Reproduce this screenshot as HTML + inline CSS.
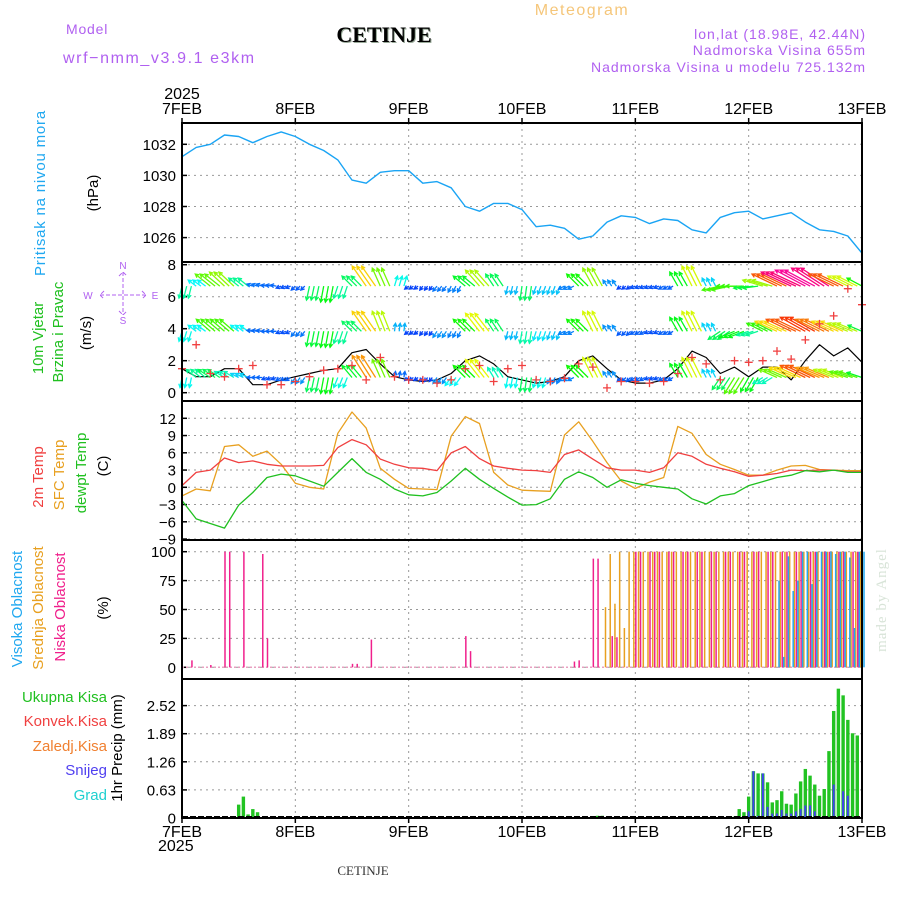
<!DOCTYPE html>
<html><head><meta charset="utf-8"><style>
body{margin:0;background:#fff;}
svg{display:block;font-family:"Liberation Sans",sans-serif;}
</style></head><body>
<svg id="chart" width="900" height="900" viewBox="0 0 900 900" xmlns="http://www.w3.org/2000/svg">
<rect x="0" y="0" width="900" height="900" fill="#fff"/>
<text x="582" y="15" font-size="16" fill="#f5c67a" text-anchor="middle" letter-spacing="1.5">Meteogram</text>
<text x="66" y="34" font-size="14" fill="#b060f0" letter-spacing="0.8">Model</text>
<text x="63" y="63" font-size="16" fill="#b060f0" letter-spacing="1.6">wrf−nmm_v3.9.1  e3km</text>
<text x="385" y="43" font-size="22" font-weight="bold" font-family="Liberation Serif,serif" fill="#9a9" text-anchor="middle">CETINJE</text>
<text x="384" y="42" font-size="22" font-weight="bold" font-family="Liberation Serif,serif" fill="#000" text-anchor="middle">CETINJE</text>
<text x="866" y="39" font-size="14" fill="#b060f0" text-anchor="end" letter-spacing="1">lon,lat (18.98E, 42.44N)</text>
<text x="866" y="55" font-size="14" fill="#b060f0" text-anchor="end" letter-spacing="1">Nadmorska Visina 655m</text>
<text x="866" y="72" font-size="14" fill="#b060f0" text-anchor="end" letter-spacing="1">Nadmorska Visina u modelu 725.132m</text>
<text x="182" y="99" font-size="16" fill="#000" text-anchor="middle">2025</text>
<text x="182" y="836" font-size="16" fill="#000" text-anchor="start" dx="-24" dy="15">2025</text>
<text x="363" y="875" font-size="13" font-family="Liberation Serif,serif" fill="#333" text-anchor="middle">CETINJE</text>
<text transform="translate(886,600) rotate(-90)" font-size="15" font-family="Liberation Serif,serif" fill="#d8e4d8" text-anchor="middle" letter-spacing="1">made by Angel</text>

<text transform="translate(45,193) rotate(-90)" font-size="15" fill="#20a8f0" text-anchor="middle" letter-spacing="0.8">Pritisak na nivou mora</text>
<text transform="translate(98,193) rotate(-90)" font-size="15" fill="#000" text-anchor="middle">(hPa)</text>

<text transform="translate(43,338) rotate(-90)" font-size="15" fill="#20c020" text-anchor="middle">10m Vjetar</text>
<text transform="translate(63,332) rotate(-90)" font-size="15" fill="#20c020" text-anchor="middle">Brzina i Pravac</text>
<text transform="translate(91,333) rotate(-90)" font-size="15" fill="#000" text-anchor="middle">(m/s)</text>
<g fill="#b060f0" font-size="10" text-anchor="middle">
<text x="123" y="269">N</text><text x="88" y="299">W</text><text x="155" y="299">E</text><text x="123" y="324">S</text>
<path d="M123 272 V315 M100 295 H146 M119 276 l4 -4 4 4 M119 311 l4 4 4 -4 M104 291 l-4 4 4 4 M142 291 l4 4 -4 4" stroke="#b060f0" stroke-width="1" fill="none" stroke-dasharray="4,2"/>
</g>

<text transform="translate(43,477) rotate(-90)" font-size="15" fill="#f04040" text-anchor="middle">2m Temp</text>
<text transform="translate(64,475) rotate(-90)" font-size="15" fill="#e8a020" text-anchor="middle">SFC Temp</text>
<text transform="translate(86,473) rotate(-90)" font-size="15" fill="#20c020" text-anchor="middle">dewpt Temp</text>
<text transform="translate(108,466) rotate(-90)" font-size="15" fill="#000" text-anchor="middle">(C)</text>

<text transform="translate(22,609) rotate(-90)" font-size="15" fill="#20a8f0" text-anchor="middle">Visoka Oblacnost</text>
<text transform="translate(43,608) rotate(-90)" font-size="15" fill="#e8a020" text-anchor="middle">Srednja Oblacnost</text>
<text transform="translate(65,607) rotate(-90)" font-size="15" fill="#f0208c" text-anchor="middle">Niska Oblacnost</text>
<text transform="translate(108,608) rotate(-90)" font-size="15" fill="#000" text-anchor="middle">(%)</text>

<g font-size="15" text-anchor="end">
<text x="107" y="702" fill="#20c020">Ukupna Kisa</text>
<text x="107" y="726" fill="#f04040">Konvek.Kisa</text>
<text x="107" y="751" fill="#f08030">Zaledj.Kisa</text>
<text x="107" y="775" fill="#5040f0">Snijeg</text>
<text x="107" y="800" fill="#20d0d0">Grad</text>
</g>
<text transform="translate(122,748) rotate(-90)" font-size="15" fill="#000" text-anchor="middle">1hr Precip (mm)</text>
<g id="marks"></g>
</svg>
<script>
// ---- data (hours since 7FEB 00Z) ----
const dayLabels = ["7FEB","8FEB","9FEB","10FEB","11FEB","12FEB","13FEB"];
const hours3 = [0,3,6,9,12,15,18,21,24,27,30,33,36,39,42,45,48,51,54,57,60,63,66,69,72,75,78,81,84,87,90,93,96,99,102,105,108,111,114,117,120,123,126,129,132,135,138,141,144];
const pressure = [1031.2,1031.8,1032.0,1032.6,1032.5,1032.1,1032.5,1032.8,1032.5,1032.0,1031.6,1031.0,1029.7,1029.5,1030.2,1030.3,1030.3,1029.5,1029.6,1029.2,1028.0,1027.7,1028.2,1028.2,1027.8,1026.7,1026.8,1026.6,1025.9,1026.1,1027.0,1027.4,1027.3,1026.9,1027.2,1027.1,1026.5,1026.3,1027.3,1027.6,1027.7,1027.2,1027.4,1027.6,1027.0,1026.5,1026.4,1026.1,1025.0];
const pressureTicks = [1026,1028,1030,1032];
const temp2m = [0.3,2.6,3.0,5.1,4.3,4.6,4.0,3.7,3.7,3.7,3.8,6.9,8.3,7.4,4.9,4.0,3.4,3.3,2.9,6.0,7.1,5.0,3.7,3.3,3.0,2.9,2.6,5.7,6.5,4.9,3.4,3.0,3.0,2.6,3.4,6.0,5.4,4.0,3.3,2.7,1.9,2.1,2.4,3.0,2.9,3.0,3.0,2.7,2.7];
const tempSfc = [-1.5,-0.3,-0.6,7.1,7.4,5.4,6.3,4.0,0.7,0,-0.3,9.4,13.1,10.3,3.3,1.4,-0.2,-0.3,-0.4,8.9,12.3,11.1,2.6,0.4,-0.5,-0.6,-0.7,9.1,11.4,8.0,4.3,1.1,-0.2,0.9,1.7,10.6,9.4,5.7,4.0,3.1,2.1,2.1,3.0,3.7,3.8,3.1,3.0,2.9,2.9];
const tempDew = [-2.3,-5.5,-6.3,-7.1,-3.1,-0.9,1.7,2.3,2.0,1.1,0.2,2.6,5.0,2.6,1.4,-0.3,-1.3,-1.5,-0.9,1.1,3.3,1.4,-0.2,-1.7,-3.1,-3.0,-2.0,1.4,2.7,1.7,0,1.3,0.7,0.3,0,-0.3,-2.0,-2.9,-1.5,-1.1,0.3,1.0,1.7,2.1,2.9,2.7,3.0,2.6,2.6];
const tempTicks = [-9,-6,-3,0,3,6,9,12];
const windSpeed = [1.5,1.0,1.0,1.5,1.5,0.5,0.5,0.8,1.0,1.2,1.4,1.5,2.5,2.7,1.8,1.0,0.8,0.7,0.8,1.2,2.0,2.3,1.8,1.0,0.8,0.6,0.7,1.0,2.0,2.3,1.5,0.8,0.6,0.6,0.8,1.5,2.6,2.2,1.2,1.6,1.0,1.6,1.6,0.8,2.0,3.0,2.3,2.8,1.9];
const windGust = [1.5,3.0,1.2,1.0,1.5,1.7,0.5,0.5,0.7,1.0,1.4,1.5,1.7,0.8,2.2,1.0,0.8,0.8,0.6,0.8,1.5,1.7,0.7,1.5,1.7,0.8,0.7,0.9,1.8,1.6,0.3,0.7,0.7,0.6,0.7,1.2,2.2,1.8,0.8,2.0,1.9,2.0,2.6,2.1,3.3,4.3,4.8,6.5,5.5];
const windTicks = [0,2,4,6,8];
const rowLevels = [6.66,3.84,0.95];
const row1U = [-3,-8,-15,-15,-10,-6,-6,-5,-4,-3,-3,-4,-10,-14,-8,3,-4,-3,-4,-3,-12,-14,-8,-2,-2,-3,-3,-6,-12,-10,-4,-4,-5,-5,-5,-8,-10,-4,-18,-18,-15,-20,-25,-30,-30,-28,-25,-20,-15];
const row1V = [-12,6,12,14,8,2,1,-2,-4,-14,-16,-12,10,20,18,10,-3,-4,-5,-6,10,16,12,-8,-14,-8,-8,-3,12,18,6,-3,-2,-2,-3,14,20,8,-4,0,-2,6,12,14,16,18,12,10,8];
const row2U = [-3,-8,-14,-14,-8,-6,-6,-5,-4,-3,-3,-4,-10,-14,-8,1,-4,-3,-4,-3,-12,-14,-8,-2,-2,-3,-3,-6,-12,-10,-4,-4,-5,-5,-5,-8,-10,-4,-12,-15,-12,-16,-22,-25,-25,-24,-22,-20,-14];
const row2V = [-10,6,12,12,6,1,0,-2,-5,-15,-16,-12,10,20,20,8,-3,-4,-6,-6,12,18,12,-8,-12,-9,-8,-3,12,20,6,-4,-3,-2,-3,14,20,8,-8,-6,-4,8,10,12,14,12,10,8,6];
const row3U = [-2,-10,-12,-10,-8,-6,-5,-5,-4,-3,-3,-4,-10,-14,-8,1,-4,-3,-4,-6,-12,-14,-6,-2,-2,-3,-3,-6,-12,-10,-4,-4,-5,-5,-5,-8,-10,-4,-8,-10,-8,-10,-18,-22,-25,-24,-20,-18,-15];
const row3V = [-10,8,8,6,4,0,-2,-3,-6,-14,-16,-10,12,22,18,6,-3,-4,-6,-8,12,18,10,-10,-14,-10,-6,-3,12,20,6,-4,-3,-2,-3,14,20,8,-12,-16,-14,-6,8,10,12,10,8,6,5];
const lowCloudHours = [2,6,9,10,13,17,18,36,37,40,60,61,83,84,87,88,91,92,96,97,99,100,101,103,104,106,107,109,110,112,113,115,116,118,119,121,122,124,125,127,128,130,131,133,134,136,137,139,140,142,143];
const lowCloudVals = [6,2,100,100,100,98,25,3,3,24,27,14,5,6,94,94,27,26,100,100,100,100,100,100,100,100,100,100,100,100,100,100,100,100,100,100,100,100,100,100,100,100,100,100,100,100,100,100,100,100,100];
const midCloudHours = [90,91,92,93,94,95,96,97,98,99,100,101,102,103,104,105,106,107,108,109,110,111,112,113,114,115,116,117,118,119,120,121,122,123,124,125,126,127,128,129,130,131,132,133,134,135,136,137,138,139,140,141,142,143,144];
const midCloudVals = [52,98,55,100,34,100,100,100,100,100,100,100,100,100,100,100,100,100,100,100,100,100,100,100,100,100,100,100,100,100,100,100,100,100,100,100,100,100,100,100,100,100,100,100,100,100,100,100,100,100,100,100,100,100,100];
const highCloudHours = [126,127,128,129,130,131,132,133,134,135,136,137,138,139,140,141,142,143,144];
const highCloudVals = [75,9,96,66,75,100,100,72,100,100,100,100,98,100,100,95,34,100,100];
const cloudTicks = [0,25,50,75,100];
const precipHours = [12,13,14,15,16,88,89,117,118,119,120,121,122,123,124,125,126,127,128,129,130,131,132,133,134,135,136,137,138,139,140,141,142,143];
const precipTotal = [0.3,0.48,0.08,0.2,0.13,0.05,0.05,0.03,0.2,0.13,0.48,1.05,1.0,1.0,0.8,0.35,0.4,0.6,0.32,0.3,0.55,0.82,1.1,0.95,0.75,0.5,0.65,1.5,2.4,2.9,2.75,2.2,1.9,1.85];
const snowHours = [120,121,122,123,124,125,126,127,128,129,130,131,132,133,134,138,140,141];
const snowVals = [0.15,1.05,0.05,1.0,0.25,0.1,0.1,0.18,0.1,0.1,0.15,0.2,0.28,0.28,0.15,0.75,0.6,0.5];
const precipTicks = [0,0.63,1.26,1.89,2.52];

// ---- layout ----
const X0=182, X1=862, HMAX=144;
const xOf = h => X0 + h*(X1-X0)/HMAX;
const panels = {
  pres:{top:123,bot:262,y:v=>144.3-(v-1032)*15.55},
  wind:{top:262,bot:401,y:v=>392.7-v*16.0},
  temp:{top:401,bot:540,y:v=>487.3-v*5.75},
  cloud:{top:540,bot:679,y:v=>667.3-v*1.156},
  prec:{top:679,bot:818,y:v=>818-v*44.6}
};
const NS="http://www.w3.org/2000/svg";
const g=document.getElementById('marks');
function mk(tag,attrs,parent){const e=document.createElementNS(NS,tag);for(const k in attrs)e.setAttribute(k,attrs[k]);(parent||g).appendChild(e);return e;}

for(const key in panels){
  const p=panels[key];
  const grp=mk('g',{});
  
  
  for(let d=1;d<6;d++){
    const l=mk('line',{x1:xOf(d*24),x2:xOf(d*24),y1:p.top,y2:p.bot,stroke:'#999','stroke-dasharray':'2,4','stroke-width':1},grp);
    
    
  }
}
function yTicks(p,ticks,fmt,name){
  ticks.forEach(t=>{
    const y=p.y(t);
    const gl=mk('line',{x1:X0,x2:X1,y1:y,y2:y,stroke:'#999','stroke-dasharray':'2,4','stroke-width':1});
    
    
    mk('line',{x1:X0,x2:X0+5,y1:y,y2:y,stroke:'#000','stroke-width':1.5});
    const tx=mk('text',{x:176,y:y+5.5,'font-size':15,'text-anchor':'end',fill:'#000'});
    tx.textContent=fmt(t);
    
    
  });
}
yTicks(panels.pres,pressureTicks,t=>String(t),'pressure');
yTicks(panels.wind,windTicks,t=>String(t),'wind');
yTicks(panels.temp,tempTicks,t=>t<0?'−'+(-t):String(t),'temp');
yTicks(panels.cloud,cloudTicks,t=>String(t),'cloud');
yTicks(panels.prec,precipTicks,t=>t===0?'0':t.toFixed(2),'precip');

function poly(xs,ys,color,name,w){
  const pts=xs.map((h,i)=>xOf(h).toFixed(1)+','+ys[i].toFixed(1)).join(' ');
  const e=mk('polyline',{points:pts,fill:'none',stroke:color,'stroke-width':w||1.3,'stroke-linejoin':'round'});
  
  
}
poly(hours3,pressure.map(panels.pres.y),'#1aa4f4','pressure-line',1.4);

// wind arrows (each 3-hourly value stamped at its 3 hourly slots)
function hueFor(s){let h=270-s*9; if(h<0)h+=360; return 'hsl('+h+',95%,50%)';}
poly(hours3,windSpeed.map(panels.wind.y),'#000','wind-speed-line',1.2);
[[row1U,row1V],[row2U,row2V],[row3U,row3V]].forEach((r,ri)=>{
  const by=panels.wind.y(rowLevels[ri]);
  hours3.forEach((h,i)=>{
    const u=r[0][i],v=r[1][i];
    const s=Math.sqrt(u*u+v*v),c=hueFor(s);
    for(let k=0;k<3;k++){
      if(h+k>HMAX) break;
      const x=xOf(h+k),x2=x+u,y2=by-v;
      const a=Math.atan2(y2-by,x2-x),hl=4;
      const d='M'+x.toFixed(1)+' '+by.toFixed(1)+' L'+x2.toFixed(1)+' '+y2.toFixed(1)+
        ' M'+(x2-hl*Math.cos(a-0.5)).toFixed(1)+' '+(y2-hl*Math.sin(a-0.5)).toFixed(1)+' L'+x2.toFixed(1)+' '+y2.toFixed(1)+
        ' L'+(x2-hl*Math.cos(a+0.5)).toFixed(1)+' '+(y2-hl*Math.sin(a+0.5)).toFixed(1);
      const e=mk('path',{d:d,stroke:c,'stroke-width':1.3,fill:'none'});
      
      
    }
  });
});
hours3.forEach((h,i)=>{
  const x=xOf(h),y=panels.wind.y(windGust[i]);
  const e=mk('path',{d:'M'+(x-4)+' '+y+' H'+(x+4)+' M'+x+' '+(y-4)+' V'+(y+4),stroke:'#f04040','stroke-width':1.3});
  
  
});

poly(hours3,tempSfc.map(panels.temp.y),'#e8a020','sfc-temp-line',1.3);
poly(hours3,temp2m.map(panels.temp.y),'#f04040','temp-2m-line',1.3);
poly(hours3,tempDew.map(panels.temp.y),'#20c020','dewpoint-line',1.3);

const cy0=panels.cloud.y(0);
const zb=mk('line',{x1:X0,x2:X1,y1:cy0,y2:cy0,stroke:'#e8a0c0','stroke-width':1.5,'stroke-dasharray':'2,2'});


function cbars(hs,vs,color,off,name){
  hs.forEach((h,i)=>{
    const x=xOf(h)+off;
    const e=mk('line',{x1:x,x2:x,y1:cy0,y2:panels.cloud.y(vs[i]),stroke:color,'stroke-width':1.5});
    
    
  });
}
cbars(midCloudHours,midCloudVals,'#e8a020',-1.5,'mid-cloud-bar');
cbars(lowCloudHours,lowCloudVals,'#f0208c',0.5,'low-cloud-bar');
cbars(highCloudHours,highCloudVals,'#20a8f0',2,'high-cloud-bar');

precipHours.forEach((h,i)=>{
  const x=xOf(h),y=panels.prec.y(precipTotal[i]);
  const e=mk('rect',{x:x-1.7,y:y,width:3.4,height:818-y,fill:'#22c322'});
  
  
});
snowHours.forEach((h,i)=>{
  const x=xOf(h),y=panels.prec.y(snowVals[i]);
  const e=mk('rect',{x:x-1,y:y,width:2,height:818-y,fill:'#4040f0'});
  
  
});
const pz=mk('line',{x1:X0,x2:X1,y1:817,y2:817,stroke:'#000','stroke-width':2,'stroke-dasharray':'6,2'});



for(const key in panels){
  const p=panels[key];
  const r=mk('rect',{x:X0,y:p.top,width:X1-X0,height:p.bot-p.top,fill:'none',stroke:'#000','stroke-width':2});
  
  
}
dayLabels.forEach((lab,d)=>{
  const x=xOf(d*24);
  mk('line',{x1:x,x2:x,y1:118,y2:123,stroke:'#000','stroke-width':1.5});
  mk('line',{x1:x,x2:x,y1:818,y2:823,stroke:'#000','stroke-width':1.5});
  const t=mk('text',{x:x,y:114,'font-size':16,'text-anchor':'middle',fill:'#000'});
  t.textContent=lab;
  
  
  const b=mk('text',{x:x,y:837,'font-size':16,'text-anchor':'middle',fill:'#000'});
  b.textContent=lab;
  
  
});
</script>
</body></html>
